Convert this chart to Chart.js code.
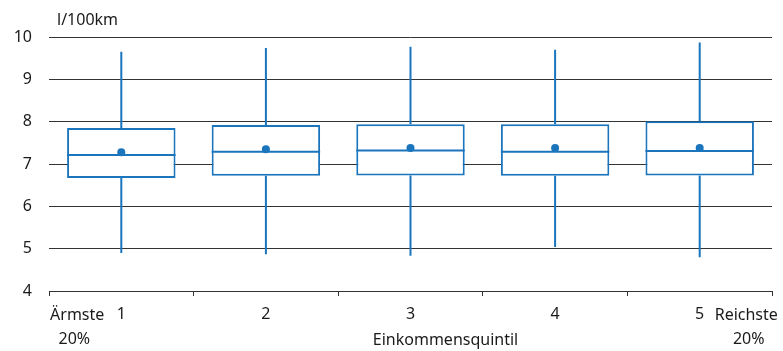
<!DOCTYPE html>
<html>
<head>
<meta charset="utf-8">
<script src="https://cdn.jsdelivr.net/npm/chart.js@4"></script>
<style>
  html, body { margin: 0; padding: 0; background: #fff; }
  #wrap { width: 783px; height: 351px; }
</style>
</head>
<body>
<div id="wrap"><canvas id="box"></canvas></div>
<script>
// values (l/100km)
const quintile = ['1', '2', '3', '4', '5'];
const whiskerLow = [4.9, 4.87, 4.83, 5.04, 4.8];
const q1 = [6.67, 6.72, 6.73, 6.72, 6.73];
const median = [7.21, 7.29, 7.32, 7.29, 7.31];
const q3 = [7.85, 7.92, 7.94, 7.94, 8.01];
const whiskerHigh = [9.65, 9.74, 9.77, 9.7, 9.87];
const mean = [7.28, 7.35, 7.38, 7.38, 7.38];
const yTicks = [4, 5, 6, 7, 8, 9, 10];

const blue = '#1a75bc';
const gridCol = '#333333';
const textCol = '#1a1a1a';
const font = '"Noto Sans", "Open Sans", sans-serif';
const fs = 16;

// whiskers + median lines, plus the extra axis texts
const boxExtras = {
  id: 'boxExtras',
  afterDatasetsDraw(chart) {
    const ctx = chart.ctx;
    const y = chart.scales.y;
    const meta = chart.getDatasetMeta(0);
    ctx.save();
    ctx.strokeStyle = blue;
    ctx.lineWidth = 2;
    meta.data.forEach((bar, i) => {
      const cx = bar.x;
      const half = bar.width / 2;
      ctx.beginPath();
      ctx.moveTo(cx, y.getPixelForValue(q3[i]));
      ctx.lineTo(cx, y.getPixelForValue(whiskerHigh[i]));
      ctx.moveTo(cx, y.getPixelForValue(q1[i]));
      ctx.lineTo(cx, y.getPixelForValue(whiskerLow[i]));
      ctx.moveTo(cx - half, y.getPixelForValue(median[i]));
      ctx.lineTo(cx + half, y.getPixelForValue(median[i]));
      ctx.stroke();
    });
    ctx.restore();
  },
  afterDraw(chart) {
    const ctx = chart.ctx;
    const x = chart.scales.x;
    const area = chart.chartArea;
    ctx.save();
    ctx.fillStyle = textCol;
    ctx.font = fs + 'px ' + font;
    ctx.textBaseline = 'middle';
    const x1 = x.getPixelForValue(0);
    const x5 = x.getPixelForValue(4);
    ctx.textAlign = 'right';
    ctx.fillText('Ärmste', x1 - 17, 315);
    ctx.textAlign = 'center';
    ctx.fillText('20%', x1 - 47, 339);
    ctx.textAlign = 'left';
    ctx.fillText('Reichste', x5 + 15, 315);
    ctx.textAlign = 'center';
    ctx.fillText('20%', x5 + 49, 339);
    ctx.fillText('Einkommensquintil', (area.left + area.right) / 2 + 35, 340);
    ctx.textAlign = 'left';
    ctx.fillText('l/100km', area.left + 8, 20);
    ctx.restore();
  }
};

new Chart(document.getElementById('box'), {
  type: 'bar',
  data: {
    labels: quintile,
    datasets: [
      {
        type: 'bar',
        data: q1.map((v, i) => [v, q3[i]]),
        backgroundColor: '#ffffff',
        borderColor: blue,
        borderWidth: 2,
        borderSkipped: false,
        barPercentage: 0.75,
        categoryPercentage: 1,
        order: 2
      },
      {
        type: 'line',
        data: mean,
        showLine: false,
        pointRadius: 4,
        pointBackgroundColor: blue,
        pointBorderWidth: 0,
        order: 1
      }
    ]
  },
  options: {
    responsive: true,
    maintainAspectRatio: false,
    animation: false,
    layout: { padding: { top: 37, right: 11, left: 0, bottom: 0 } },
    plugins: { legend: { display: false }, tooltip: { enabled: false } },
    scales: {
      x: {
        offset: true,
        grid: { offset: true, drawOnChartArea: false, tickLength: 5, color: gridCol },
        border: { color: gridCol, width: 1 },
        ticks: { color: textCol, font: { family: font, size: fs }, padding: 9 },
        afterFit(s) { s.height = 60; }
      },
      y: {
        min: 4,
        max: 10,
        afterBuildTicks(s) { s.ticks = yTicks.map(v => ({ value: v })); },
        grid: { color: gridCol, drawTicks: false },
        border: { display: false },
        ticks: { color: textCol, font: { family: font, size: fs }, padding: 17 },
        afterFit(s) { s.width = 49; }
      }
    }
  },
  plugins: [boxExtras]
});
</script>
</body>
</html>
